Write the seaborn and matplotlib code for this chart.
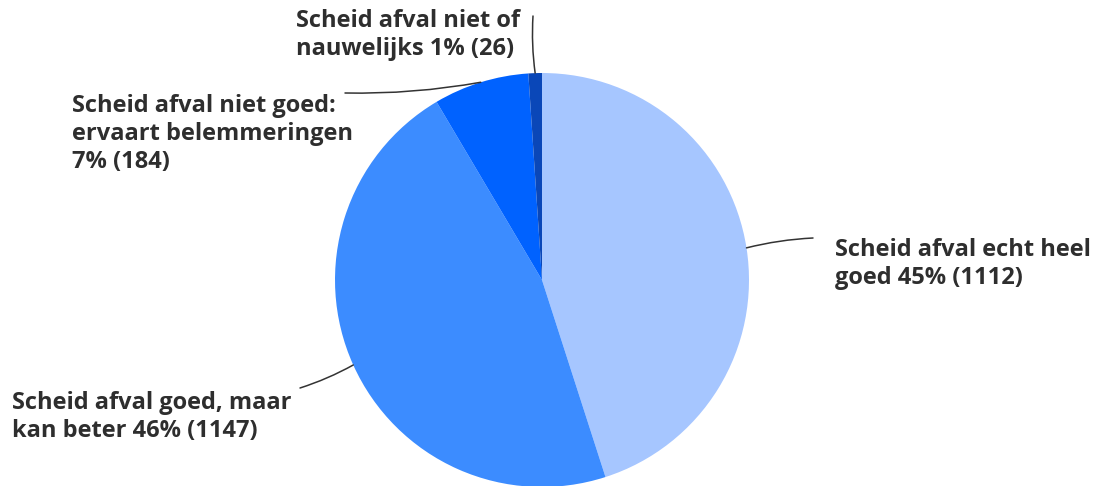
import numpy as np
import matplotlib
matplotlib.use("Agg")
import matplotlib.pyplot as plt
import seaborn as sns

# data
categories = ["Scheid afval echt heel\ngoed", "Scheid afval goed, maar\nkan beter",
              "Scheid afval niet goed:\nervaart belemmeringen\n", "Scheid afval niet of\nnauwelijks"]
counts = [1112, 1147, 184, 26]
percents = [45, 46, 7, 1]
colors = ["#a6c6ff", "#3c8cff", "#0062ff", "#0a47b8"]

sns.set_theme(style="white")
plt.rcParams["font.family"] = ["Open Sans", "DejaVu Sans"]

fig = plt.figure(figsize=(11.07, 4.86), dpi=100)
ax = fig.add_axes([0, 0, 1, 1])

cx, cy, r = 542, 206, 207
wedges, _ = ax.pie(counts, colors=colors, startangle=90, counterclock=False,
                   center=(cx, cy), radius=r, frame=True,
                   wedgeprops=dict(linewidth=0))
ax.set_xlim(0, 1107)
ax.set_ylim(0, 486)
ax.axis("off")

# label text positions (left edge, vertical centre) and leader line ends
text_pos = [(835, 222), (12, 69), (72, 352), (296, 451)]
line_end = [(813, 248), (300, 98), (345, 393), (533, 470)]

for w, cat, pc, n, tp, le in zip(wedges, categories, percents, counts, text_pos, line_end):
    ang = np.deg2rad((w.theta1 + w.theta2) / 2)
    x = cx + r * np.cos(ang)
    y = cy + r * np.sin(ang)
    label = f"{cat} {pc}% ({n})".replace("\n ", "\n")
    ax.annotate("", xy=(x, y), xytext=le,
                arrowprops=dict(arrowstyle="-", color="#333333", lw=1.1,
                                shrinkA=0, shrinkB=0,
                                connectionstyle="arc3,rad=0.05"))
    ax.text(tp[0], tp[1], label, ha="left", va="center", fontsize=17,
            fontweight="bold", color="#2e2e2e", linespacing=1.2)

fig.savefig("out.png", dpi=100)
